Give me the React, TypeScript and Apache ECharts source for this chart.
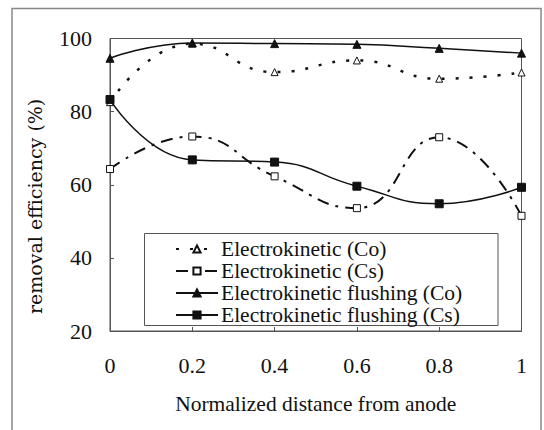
import React, { useEffect, useRef } from "react";
import * as echarts from "echarts";

const xValues = [0, 0.2, 0.4, 0.6, 0.8, 1];
const ekCo = [82.6, 98.6, 90.8, 94.0, 89.0, 90.7];
const ekCs = [64.3, 73.2, 62.3, 53.6, 73.0, 51.5];
const flushCo = [94.6, 98.8, 98.6, 98.4, 97.3, 96.0];
const flushCs = [83.3, 66.8, 66.2, 59.6, 54.8, 59.3];
const seriesNames = [
  "Electrokinetic (Co)",
  "Electrokinetic (Cs)",
  "Electrokinetic flushing (Co)",
  "Electrokinetic flushing (Cs)",
];
const xAxisTitle = "Normalized distance from anode";
const yAxisTitle = "removal efficiency (%)";

const SERIF = "Liberation Serif";

export default function App() {
  const ref = useRef<HTMLDivElement>(null);
  useEffect(() => {
    document.body.style.margin = "0";
    const chart = echarts.init(ref.current!, null, { renderer: "svg" });
    const pts = (arr: number[]) => xValues.map((x, i) => [x, arr[i]]);
    chart.setOption({
      animation: false,
      backgroundColor: "#ffffff",
      textStyle: { fontFamily: SERIF },
      grid: {
        left: 110,
        top: 38.5,
        right: 22.5,
        bottom: 99,
        show: true,
        borderColor: "#555",
        borderWidth: 1,
      },
      xAxis: {
        type: "value",
        min: 0,
        max: 1,
        interval: 0.2,
        name: xAxisTitle,
        nameLocation: "middle",
        nameGap: 62,
        nameTextStyle: { fontFamily: SERIF, fontSize: 21.5, color: "#111" },
        axisLine: { show: true, lineStyle: { color: "#555", width: 1 } },
        axisTick: { show: true, inside: true, length: 4, lineStyle: { color: "#555" } },
        axisLabel: {
          margin: 23,
          fontFamily: SERIF,
          fontSize: 22,
          color: "#111",
          formatter: (v: number) => String(+v.toFixed(1)),
        },
        splitLine: { show: false },
      },
      yAxis: {
        type: "value",
        min: 20,
        max: 100,
        interval: 20,
        axisLine: { show: true, lineStyle: { color: "#555", width: 1 } },
        axisTick: { show: true, inside: true, length: 4, lineStyle: { color: "#555" } },
        axisLabel: {
          margin: 18,
          fontFamily: SERIF,
          fontSize: 22,
          color: "#111",
          padding: [5, 0, 0, 0],
        },
        splitLine: { show: false },
      },
      legend: {
        orient: "vertical",
        left: 144,
        top: 233,
        padding: [5, 0, 0, 31],
        itemGap: 0,
        itemWidth: 42,
        itemHeight: 9,
        textStyle: {
          fontFamily: SERIF,
          fontSize: 21.5,
          color: "#111",
          lineHeight: 19,
          padding: [0, 0, 0, -2],
        },
        data: seriesNames,
      },
      graphic: [
        {
          type: "rect",
          shape: { x: 12, y: 8.5, width: 529, height: 440 },
          style: { fill: "none", stroke: "#888", lineWidth: 1.5 },
          silent: true,
        },
        {
          type: "rect",
          shape: { x: 144.5, y: 233.5, width: 353.5, height: 92 },
          style: { fill: "none", stroke: "#555", lineWidth: 1 },
          silent: true,
        },
        {
          type: "text",
          x: 35,
          y: 314,
          rotation: Math.PI / 2,
          style: {
            text: yAxisTitle,
            fontFamily: "DejaVu Serif",
            fontSize: 19,
            fill: "#111",
            align: "left",
            verticalAlign: "middle",
          },
          silent: true,
        },
      ],
      series: [
        {
          name: seriesNames[0],
          type: "line",
          data: pts(ekCo),
          smooth: 0.5,
          symbol: "triangle",
          symbolSize: 7,
          itemStyle: { color: "#fff", borderColor: "#111", borderWidth: 1 },
          lineStyle: { color: "#111", width: 2.5, type: [3, 11] },
          z: 2,
        },
        {
          name: seriesNames[1],
          type: "line",
          data: pts(ekCs),
          smooth: 0.5,
          symbol: "rect",
          symbolSize: 7,
          itemStyle: { color: "#fff", borderColor: "#111", borderWidth: 1 },
          lineStyle: { color: "#111", width: 2, type: [12, 7, 3, 7] },
          z: 2,
        },
        {
          name: seriesNames[2],
          type: "line",
          data: pts(flushCo),
          smooth: 0.5,
          symbol: "triangle",
          symbolSize: 8,
          itemStyle: { color: "#111", borderColor: "#111", borderWidth: 1 },
          lineStyle: { color: "#111", width: 1.5, type: "solid" },
          z: 3,
        },
        {
          name: seriesNames[3],
          type: "line",
          data: pts(flushCs),
          smooth: 0.5,
          symbol: "rect",
          symbolSize: 8,
          itemStyle: { color: "#111", borderColor: "#111", borderWidth: 1 },
          lineStyle: { color: "#111", width: 1.5, type: "solid" },
          z: 3,
        },
      ],
    });
    return () => chart.dispose();
  }, []);
  return <div ref={ref} style={{ width: 544, height: 430 }} />;
}
